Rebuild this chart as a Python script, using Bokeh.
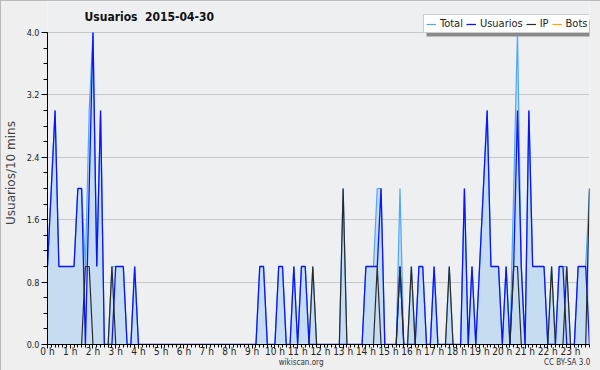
from bokeh.plotting import figure
from bokeh.models import (Range1d, FixedTicker, Label, Legend, LegendItem,
                          BoxAnnotation, ColumnDataSource, PrintfTickFormatter,
                          LinearAxis)
from bokeh.embed import file_html
from bokeh.resources import INLINE

# ---- data (10-minute slots, 00:00 .. 23:50) ----
hour_labels = [f"{h} h" for h in range(24)]
y_ticks = [0.0, 0.8, 1.6, 2.4, 3.2, 4.0]

usuarios = [
    1, 2, 3, 1, 1, 1,   1, 1, 2, 2, 0, 2,   4, 1, 3, 0, 0, 0,   1, 1, 1, 0, 0, 1,
    0, 0, 0, 0, 0, 0,   0, 0, 0, 0, 0, 0,   0, 0, 0, 0, 0, 0,   0, 0, 0, 0, 0, 0,
    0, 0, 0, 0, 0, 0,   0, 0, 1, 1, 0, 0,   0, 1, 1, 0, 0, 1,   0, 1, 1, 0, 0, 0,
    0, 0, 0, 0, 0, 0,   0, 0, 0, 0, 0, 0,   1, 1, 1, 1, 2, 0,   0, 0, 0, 1, 0, 0,
    0, 0, 1, 1, 0, 0,   1, 0, 0, 0, 0, 0,   0, 0, 2, 0, 1, 0,   1, 2, 3, 1, 1, 1,
    0, 1, 0, 1, 3, 1,   0, 3, 1, 1, 1, 1,   0, 0, 0, 1, 1, 0,   0, 0, 1, 1, 1, 0,
]
ip = [
    0, 0, 0, 0, 0, 0,   0, 0, 0, 0, 1, 1,   0, 0, 0, 0, 0, 1,   0, 0, 0, 0, 0, 0,
    0, 0, 0, 0, 0, 0,   0, 0, 0, 0, 0, 0,   0, 0, 0, 0, 0, 0,   0, 0, 0, 0, 0, 0,
    0, 0, 0, 0, 0, 0,   0, 0, 0, 0, 0, 0,   0, 0, 0, 0, 0, 0,   0, 0, 0, 0, 1, 0,
    0, 0, 0, 0, 0, 0,   2, 0, 0, 0, 0, 0,   0, 0, 0, 1, 0, 0,   0, 0, 0, 1, 0, 0,
    1, 0, 0, 0, 0, 0,   0, 0, 0, 0, 1, 0,   0, 0, 0, 0, 0, 0,   0, 0, 0, 0, 0, 0,
    0, 0, 0, 1, 1, 0,   0, 0, 0, 0, 0, 0,   0, 1, 0, 0, 0, 1,   0, 0, 0, 0, 0, 2,
]
bots = [0] * 144
total = [
    1, 2, 3, 1, 1, 1,   1, 1, 2, 2, 1, 3,   4, 1, 3, 0, 0, 1,   1, 1, 1, 0, 0, 1,
    0, 0, 0, 0, 0, 0,   0, 0, 0, 0, 0, 0,   0, 0, 0, 0, 0, 0,   0, 0, 0, 0, 0, 0,
    0, 0, 0, 0, 0, 0,   0, 0, 1, 1, 0, 0,   0, 1, 1, 0, 0, 1,   0, 1, 1, 0, 1, 0,
    0, 0, 0, 0, 0, 0,   2, 0, 0, 0, 0, 0,   1, 1, 1, 2, 2, 0,   0, 0, 0, 2, 0, 0,
    1, 0, 1, 1, 0, 0,   1, 0, 0, 0, 1, 0,   0, 0, 2, 0, 1, 0,   1, 2, 3, 1, 1, 1,
    0, 1, 0, 2, 4, 1,   0, 3, 1, 1, 1, 1,   0, 1, 0, 1, 1, 1,   0, 0, 1, 1, 1, 2,
]

slots = [i / 6 for i in range(len(total))]   # hours
src = ColumnDataSource(dict(x=slots, total=total, usuarios=usuarios, ip=ip, bots=bots))

FONT = "'DejaVu Sans Condensed', 'DejaVu Sans', sans-serif"

# frame runs from y=1 to y=344; the value 4.0 must sit at y=32 (78 px per unit)
FRAME_TOP, FRAME_BOTTOM, PX_PER_UNIT = 1, 344, 78.0
y_top = (FRAME_BOTTOM - FRAME_TOP) / PX_PER_UNIT

p = figure(width=600, height=370, output_backend="svg", toolbar_location=None,
           title=None, x_range=Range1d(0, slots[-1]), y_range=Range1d(0, y_top),
           min_border_left=46, min_border_right=11, min_border_top=FRAME_TOP,
           min_border_bottom=370 - FRAME_BOTTOM,
           styles={"outline": "1px solid #a8a8a8", "outline-offset": "-1px"})
p.background_fill_color = "#eeeff1"
p.border_fill_color = "#efefef"
p.outline_line_color = None

# glyphs
p.varea(x="x", y1=0, y2="total", source=src, fill_color="#c6dcf0")
r_bots = p.line("x", "bots", source=src, line_color="#ffa500", line_width=1.2)
r_total = p.line("x", "total", source=src, line_color="#4da8f5", line_width=1.2)
r_usu = p.line("x", "usuarios", source=src, line_color="#0a14ff", line_width=1.3)
r_ip = p.line("x", "ip", source=src, line_color="#2a2a2a", line_width=1.2)

# x axis (hours)
xa = p.xaxis[0]
xa.ticker = FixedTicker(ticks=list(range(24)), minor_ticks=slots)
xa.major_label_overrides = {h: lab for h, lab in enumerate(hour_labels)}
xa.major_tick_out = 4
xa.major_tick_in = 0
xa.minor_tick_out = 3
xa.minor_tick_in = 0
xa.major_label_standoff = -3
xa.major_label_text_font = FONT
xa.major_label_text_font_size = "10px"
xa.major_label_text_color = "#222222"
xa.axis_line_color = "black"
xa.major_tick_line_color = "black"
xa.minor_tick_line_color = "black"

# second row under the axis: site name and licence
foot_pos = [11.15, 22.85]
foot_text = ["wikiscan.org", "CC BY-SA 3.0"]
xa2 = LinearAxis(ticker=FixedTicker(ticks=foot_pos, minor_ticks=[]),
                 major_label_overrides=dict(zip(foot_pos, foot_text)),
                 axis_line_color=None, major_tick_line_color=None,
                 minor_tick_line_color=None, major_tick_out=0, major_tick_in=0,
                 minor_tick_out=0, minor_tick_in=0, major_label_standoff=-2,
                 major_label_text_font=FONT, major_label_text_font_size="8px",
                 major_label_text_color="#333333")
p.add_layout(xa2, "below")

# y axis
ya = p.yaxis[0]
ya.bounds = (0, 4)
ya.ticker = FixedTicker(ticks=y_ticks, minor_ticks=[k * 0.2 for k in range(21)])
ya.formatter = PrintfTickFormatter(format="%.1f")
ya.major_tick_out = 6
ya.major_tick_in = 0
ya.minor_tick_out = 4
ya.minor_tick_in = 0
ya.major_label_standoff = 2
ya.major_label_text_font = FONT
ya.major_label_text_font_size = "9px"
ya.major_label_text_color = "#222222"
ya.axis_label = "Usuarios/10 mins"
ya.axis_label_text_font = "DejaVu Sans"
ya.axis_label_text_font_size = "12px"
ya.axis_label_text_font_style = "normal"
ya.axis_label_standoff = 6
ya.axis_line_color = "black"

p.xgrid.visible = False
p.ygrid.grid_line_color = "#c8c8c8"
p.ygrid.grid_line_width = 1

# title (inside the tall frame, above the 4.0 line)
p.add_layout(Label(x=37, y=FRAME_BOTTOM - 16, x_units="screen", y_units="screen",
                   text="Usuarios\u00a0 2015-04-30", text_font=FONT,
                   text_font_style="bold", text_font_size="12px",
                   text_baseline="middle", text_color="#111111"))

# legend shadow, then legend (top right)
p.add_layout(BoxAnnotation(left=379, right=546, top=FRAME_BOTTOM - 20,
                           bottom=FRAME_BOTTOM - 36,
                           left_units="screen", right_units="screen",
                           top_units="screen", bottom_units="screen",
                           fill_color="#8a8a8a", fill_alpha=1.0,
                           line_color=None))
legend = Legend(items=[LegendItem(label="Total", renderers=[r_total]),
                       LegendItem(label="Usuarios", renderers=[r_usu]),
                       LegendItem(label="IP", renderers=[r_ip]),
                       LegendItem(label="Bots", renderers=[r_bots])],
                orientation="horizontal", location=(376, FRAME_BOTTOM - 33),
                margin=0, padding=2, spacing=3, glyph_width=10, glyph_height=12,
                label_height=12, label_width=1, label_standoff=4,
                label_text_font=FONT, label_text_font_size="11px",
                label_text_color="#222222",
                background_fill_color="white", background_fill_alpha=1.0,
                border_line_color="#9a9a9a", border_line_width=1)
p.add_layout(legend)

open("out.html", "w").write(file_html(p, INLINE))
